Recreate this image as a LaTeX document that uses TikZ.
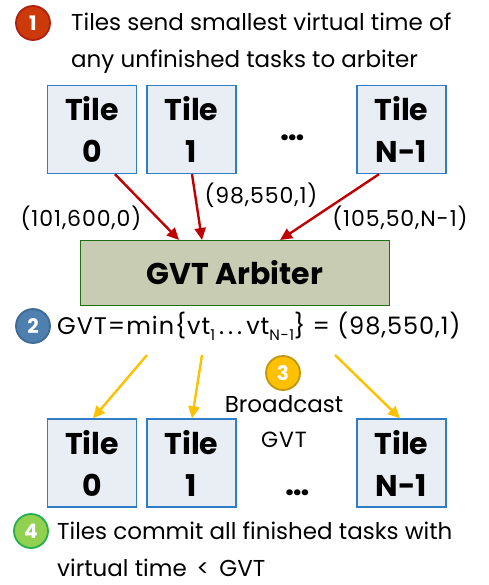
\documentclass[tikz,border=0pt]{standalone}
\usepackage{fontspec}
\setmainfont{Poppins}
\newfontfamily\widefont[LetterSpace=4]{Poppins}
\usetikzlibrary{arrows.meta}
\definecolor{tilefill}{HTML}{E9EEF5}
\definecolor{tileedge}{HTML}{2F7DC6}
\definecolor{arbfill}{HTML}{C8CCB3}
\definecolor{arbedge}{HTML}{1E6E14}
\definecolor{redarrow}{HTML}{C00000}
\definecolor{goldarrow}{HTML}{FFC000}
\definecolor{stepone}{HTML}{CC3A0C}
\definecolor{steponeedge}{HTML}{B0200C}
\definecolor{steptwo}{HTML}{4F7FAE}
\definecolor{steptwoedge}{HTML}{3F6A96}
\definecolor{stepthree}{HTML}{FFC000}
\definecolor{stepthreeedge}{HTML}{C0960A}
\definecolor{stepfour}{HTML}{92D050}
\definecolor{stepfouredge}{HTML}{22B14C}
\tikzset{
  tilebox/.style={draw=tileedge, fill=tilefill, line width=1.4pt,
    minimum width=89pt, minimum height=88pt, inner sep=0pt,
    align=center, font=\fontsize{30}{42}\selectfont\bfseries},
  arbbox/.style={draw=arbedge, fill=arbfill, line width=1.6pt,
    minimum width=309pt, minimum height=65pt, inner sep=0pt,
    font=\fontsize{30}{32}\selectfont\bfseries},
  badge/.style={circle, minimum size=34pt, inner sep=0pt, line width=1.8pt,
    text=white, font=\fontsize{20}{20}\selectfont\bfseries},
  body/.style={anchor=west, inner sep=0pt, align=left,
    font=\fontsize{23}{37}\selectfont},
  lbl/.style={inner sep=0pt, font=\widefont\fontsize{22}{24}\selectfont},
  dots/.style={inner sep=0pt, font=\fontsize{32}{32}\selectfont\bfseries},
  redline/.style={draw=redarrow, line width=2.4pt,
    -{Triangle[length=12pt,width=11pt]}},
  goldline/.style={draw=goldarrow, line width=2.4pt,
    -{Triangle[length=12pt,width=11pt]}},
}
\begin{document}
\begin{tikzpicture}[x=1pt, y=-1pt]
\useasboundingbox (0,0) rectangle (488,585);

% step 1
\node[badge, fill=stepone, draw=steponeedge] (b1) at (33,23) {1};
\node[body] (t1) at (71,43) {Tiles send smallest virtual time of\\any unfinished tasks to arbiter};

% upper row of tiles
\node[tilebox] (u0) at (92,129.5) {Tile\\0};
\node[tilebox] (u1) at (191.5,129.5) {Tile\\1};
\node[tilebox] (un) at (401.5,129.5) {Tile\\N-1};
\node[dots] (ud) at (293,138) {…};

% arbiter
\node[arbbox] (arb) at (235,273) {GVT Arbiter};

% tile-to-arbiter messages
\coordinate (a0) at (179,240);
\coordinate (a1) at (202,240);
\coordinate (an) at (280,240);
\draw[redline] (u0.south -| 115,0) -- (a0);
\draw[redline] (u1.south -| 192,0) -- (a1);
\draw[redline] (un.south -| 379,0) -- (an);
\node[lbl] (l0) at (81,218) {(101,600,0)};
\node[lbl] (l1) at (261,195) {(98,550,1)};
\node[lbl] (ln) at (400,218) {(105,50,N-1)};

% step 2
\node[badge, fill=steptwo, draw=steptwoedge] (b2) at (33,326) {2};
\node[anchor=west, inner sep=0pt, font=\widefont\fontsize{24}{26}\selectfont] (gvt) at (57,326)
  {GVT=min\{vt\raisebox{-0.45ex}{\fontsize{15}{15}\selectfont 1}\,.\,.\,.\,vt\raisebox{-0.45ex}{\fontsize{15}{15}\selectfont N-1}\} = (98,550,1)};

% step 3: broadcast
\node[badge, fill=stepthree, draw=stepthreeedge] (b3) at (283,373) {3};
\node[lbl, font=\fontsize{23}{24}\selectfont] (bc) at (284,404) {Broadcast};
\node[lbl, font=\widefont\fontsize{22}{24}\selectfont] (bg) at (284,440) {GVT};

% lower row of tiles
\node[tilebox] (d0) at (92,463) {Tile\\0};
\node[tilebox] (d1) at (191.5,463) {Tile\\1};
\node[tilebox] (dn) at (401.5,463) {Tile\\N-1};
\node[dots] (dd) at (298,493) {…};

\coordinate (g0) at (147,355);
\coordinate (g1) at (202,355);
\coordinate (gn) at (335,355);
\draw[goldline] (g0) -- (d0.north -| 93,0);
\draw[goldline] (g1) -- (d1.north -| 192,0);
\draw[goldline] (gn) -- (dn.north -| 400,0);

% step 4
\node[badge, fill=stepfour, draw=stepfouredge] (b4) at (31,531) {4};
\node[body] (t4) at (57,549) {Tiles commit all finished tasks with\\virtual time \,<\, GVT};
\end{tikzpicture}
\end{document}
